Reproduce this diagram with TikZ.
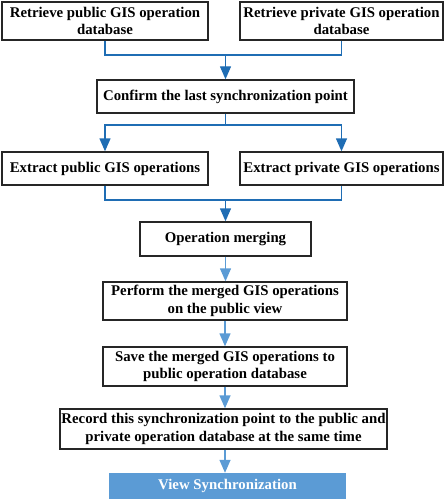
\documentclass[tikz,border=0pt]{standalone}
\usepackage{fontspec}
\setmainfont{Liberation Serif}
\usetikzlibrary{arrows.meta}

\definecolor{darkline}{HTML}{1F6DB4}
\definecolor{lightline}{HTML}{5B9BD5}

\tikzset{
    stepbox/.style={draw=black!85, line width=1.4pt, align=center, inner sep=0pt,
        font=\fontsize{14.8}{17.5}\selectfont\bfseries},
    viewbox/.style={fill=lightline, text=white, align=center, inner sep=0pt,
        font=\fontsize{14.8}{17.5}\selectfont\bfseries},
    darkarrow/.style={darkline, line width=1.4pt, -{Triangle[length=13pt,width=11pt]}},
    darkjoin/.style={darkline, line width=1.4pt},
    lightarrow/.style={lightline, line width=1.4pt, -{Triangle[length=13pt,width=11pt]}}
}

\begin{document}
\begin{tikzpicture}[x=1pt,y=-1pt]
        \useasboundingbox (0,0) rectangle (447,500);
        % top row
        \node[stepbox, minimum width=206pt, minimum height=38pt] (pubdb) at (105,21) {Retrieve public GIS operation\\database};
        \node[stepbox, minimum width=203pt, minimum height=38pt] (pridb) at (341.5,21) {Retrieve private GIS operation\\database};
        \node[stepbox, minimum width=257pt, minimum height=33pt] (sync) at (225.5,96.5) {Confirm the last synchronization point};
        % extract row
        \node[stepbox, minimum width=206pt, minimum height=33pt] (pubop) at (105,168.5) {Extract public GIS operations};
        \node[stepbox, minimum width=203pt, minimum height=33pt] (priop) at (341.5,168.5) {Extract private GIS operations};
        \node[stepbox, minimum width=171pt, minimum height=34pt] (merge) at (225.5,239) {Operation merging};
        % lower chain
        \node[stepbox, minimum width=244pt, minimum height=38pt] (perform) at (225,301) {Perform the merged GIS operations\\on the public view};
        \node[stepbox, minimum width=244pt, minimum height=39pt] (save) at (225,366.5) {Save the merged GIS operations to\\public operation database};
        \node[stepbox, minimum width=327pt, minimum height=40pt] (record) at (223.5,429) {Record this synchronization point to the public and\\private operation database at the same time};
        \node[viewbox, minimum width=237pt, minimum height=26pt] (view) at (227.5,486) {View Synchronization};

        \coordinate (jointop) at (225.5,55);
        \coordinate (jointsplit) at (225.5,125);
        \coordinate (jointmerge) at (225.5,200);

        \draw[darkjoin] (pubdb.south) |- (jointop) -| (pridb.south);
        \draw[darkarrow] (jointop) -- (sync.north);
        \draw[darkjoin] (sync.south) -- (jointsplit);
        \draw[darkarrow] (jointsplit) -| (pubop.north);
        \draw[darkarrow] (jointsplit) -| (priop.north);
        \draw[darkjoin] (pubop.south) |- (jointmerge) -| (priop.south);
        \draw[darkarrow] (jointmerge) -- (merge.north);

        \draw[lightarrow] (merge.south) -- (merge.south |- perform.north);
        \draw[lightarrow] (perform.south) -- (perform.south |- save.north);
        \draw[lightarrow] (save.south) -- (save.south |- record.north);
        \draw[lightarrow] (record.south -| save.south) -- (save.south |- view.north);
    \end{tikzpicture}
\end{document}
